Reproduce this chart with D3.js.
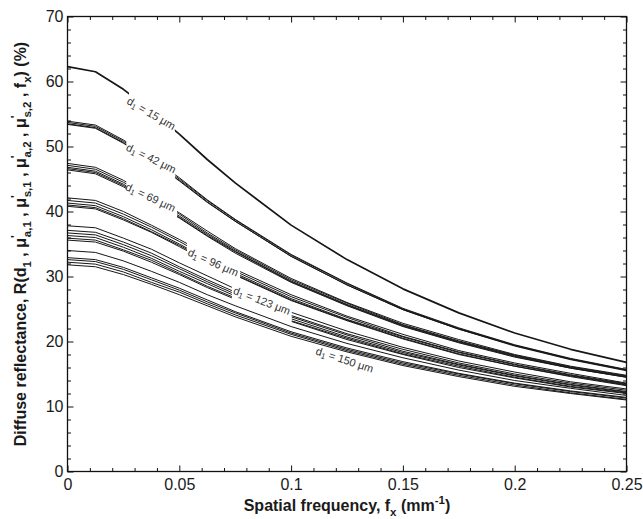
<!DOCTYPE html>
<html>
<head>
<meta charset="utf-8">
<script src="https://cdn.jsdelivr.net/npm/d3@7/dist/d3.min.js"></script>
<style>
  html, body { margin: 0; padding: 0; background: #fff; }
  svg { display: block; }
  text { font-family: "Liberation Sans", Arial, Helvetica, sans-serif; }
</style>
</head>
<body>
<svg id="chart" width="643" height="519"></svg>
<script>
// ---------- data ----------
const xValues = [0, 0.0125, 0.025, 0.0375, 0.05, 0.0625, 0.075, 0.1, 0.125, 0.15, 0.175, 0.2, 0.225, 0.25];

const thicknessLabels = ["15", "42", "69", "96", "123", "150"];

const curvesD15 = [
  [62.3, 61.5, 58.8, 55.5, 51.9, 48.0, 44.4, 37.9, 32.6, 28.1, 24.4, 21.3, 18.8, 16.8]
];
const curvesD42 = [
  [53.9, 53.3, 51.0, 48.3, 45.2, 41.8, 38.8, 33.4, 29.0, 25.1, 22.1, 19.5, 17.4, 15.7],
  [53.7, 53.1, 50.8, 48.1, 45.0, 41.7, 38.7, 33.3, 28.9, 25.0, 22.0, 19.4, 17.3, 15.6],
  [53.5, 52.9, 50.6, 47.9, 44.8, 41.5, 38.5, 33.1, 28.7, 24.9, 21.9, 19.4, 17.3, 15.6],
  [53.4, 52.8, 50.5, 47.8, 44.7, 41.4, 38.5, 33.1, 28.7, 24.9, 21.9, 19.3, 17.2, 15.5]
];
const curvesD69 = [
  [47.4, 46.8, 44.8, 42.3, 39.8, 37.0, 34.3, 29.7, 26.0, 22.8, 20.3, 18.0, 16.2, 14.8],
  [47.1, 46.5, 44.5, 42.1, 39.6, 36.7, 34.1, 29.5, 25.9, 22.6, 20.1, 17.9, 16.1, 14.7],
  [46.8, 46.2, 44.2, 41.8, 39.3, 36.5, 33.9, 29.3, 25.7, 22.5, 20.0, 17.8, 16.0, 14.6],
  [46.6, 46.0, 44.0, 41.6, 39.1, 36.3, 33.8, 29.2, 25.6, 22.4, 19.9, 17.7, 15.9, 14.5],
  [46.4, 45.8, 43.8, 41.4, 39.0, 36.2, 33.6, 29.1, 25.5, 22.3, 19.8, 17.6, 15.9, 14.5]
];
const curvesD96 = [
  [42.1, 41.7, 40.0, 37.9, 35.7, 33.4, 31.1, 27.2, 23.9, 21.1, 18.6, 16.7, 15.1, 13.6],
  [41.7, 41.3, 39.6, 37.6, 35.4, 33.0, 30.8, 26.9, 23.7, 20.8, 18.4, 16.5, 14.9, 13.5],
  [41.3, 40.9, 39.2, 37.2, 35.0, 32.7, 30.5, 26.6, 23.4, 20.7, 18.3, 16.4, 14.8, 13.4],
  [41.0, 40.6, 38.9, 36.9, 34.8, 32.5, 30.3, 26.4, 23.3, 20.5, 18.1, 16.2, 14.7, 13.3],
  [40.8, 40.4, 38.7, 36.8, 34.6, 32.3, 30.2, 26.3, 23.2, 20.4, 18.0, 16.2, 14.6, 13.2]
];
const curvesD123 = [
  [37.8, 37.5, 35.9, 34.2, 32.1, 30.1, 28.1, 24.5, 21.6, 19.1, 17.0, 15.3, 13.8, 12.7],
  [37.1, 36.8, 35.3, 33.6, 31.5, 29.5, 27.6, 24.0, 21.2, 18.8, 16.7, 15.0, 13.6, 12.5],
  [36.7, 36.4, 34.9, 33.2, 31.2, 29.2, 27.3, 23.8, 21.0, 18.5, 16.5, 14.8, 13.4, 12.3],
  [36.3, 36.0, 34.5, 32.8, 30.8, 28.9, 27.0, 23.5, 20.7, 18.3, 16.4, 14.7, 13.3, 12.2],
  [35.9, 35.6, 34.1, 32.5, 30.5, 28.5, 26.7, 23.2, 20.5, 18.1, 16.2, 14.5, 13.1, 12.1],
  [35.6, 35.3, 33.9, 32.2, 30.3, 28.3, 26.5, 23.1, 20.3, 18.0, 16.0, 14.4, 13.0, 12.0]
];
const curvesD150 = [
  [34.0, 33.7, 32.4, 30.8, 29.1, 27.2, 25.5, 22.3, 19.7, 17.5, 15.6, 14.0, 12.8, 11.7],
  [32.9, 32.6, 31.4, 29.8, 28.2, 26.4, 24.6, 21.5, 19.0, 16.9, 15.1, 13.6, 12.4, 11.4],
  [32.6, 32.3, 31.1, 29.5, 27.9, 26.1, 24.4, 21.3, 18.8, 16.7, 15.0, 13.5, 12.3, 11.3],
  [32.2, 31.9, 30.7, 29.1, 27.6, 25.8, 24.1, 21.1, 18.6, 16.5, 14.8, 13.3, 12.1, 11.1],
  [31.8, 31.5, 30.3, 28.8, 27.2, 25.5, 23.8, 20.8, 18.4, 16.3, 14.6, 13.1, 12.0, 11.0]
];

const xMajorTicks = [0, 0.05, 0.1, 0.15, 0.2, 0.25];
const xTickLabels = ["0", "0.05", "0.1", "0.15", "0.2", "0.25"];
const xMinorTicks = [0.01, 0.02, 0.03, 0.04, 0.06, 0.07, 0.08, 0.09, 0.11, 0.12, 0.13, 0.14, 0.16, 0.17, 0.18, 0.19, 0.21, 0.22, 0.23, 0.24];
const yMajorTicks = [0, 10, 20, 30, 40, 50, 60, 70];
const yTickLabels = ["0", "10", "20", "30", "40", "50", "60", "70"];
const yMinorTicks = [2, 4, 6, 8, 12, 14, 16, 18, 22, 24, 26, 28, 32, 34, 36, 38, 42, 44, 46, 48, 52, 54, 56, 58, 62, 64, 66, 68];

// ---------- layout (annotation placement, in data units) ----------
const groups = [
  { curves: curvesD15,  label: thicknessLabels[0], gap: [0.0275, 0.0480], lx: 0.0375, ly: 55.1, ang: 30 },
  { curves: curvesD42,  label: thicknessLabels[1], gap: [0.0263, 0.0482], lx: 0.0375, ly: 48.2, ang: 26 },
  { curves: curvesD69,  label: thicknessLabels[2], gap: [0.0263, 0.0490], lx: 0.0372, ly: 42.2, ang: 25 },
  { curves: curvesD96,  label: thicknessLabels[3], gap: [0.0534, 0.0772], lx: 0.0652, ly: 32.2, ang: 24 },
  { curves: curvesD123, label: thicknessLabels[4], gap: [0.0735, 0.1003], lx: 0.0870, ly: 26.3, ang: 21 },
  { curves: curvesD150, label: thicknessLabels[5], gap: null,             lx: 0.1240, ly: 17.2, ang: 18 }
];

const W = 643, H = 519;
const L = 67.5, R = 626.5, T = 16.5, B = 471.5;

const svg = d3.select("#chart");
const x = d3.scaleLinear().domain([0, 0.25]).range([L, R]);
const y = d3.scaleLinear().domain([0, 70]).range([B, T]);

const defs = svg.append("defs");
defs.append("clipPath").attr("id", "plotclip")
  .append("rect").attr("x", L).attr("y", T).attr("width", R - L).attr("height", B - T);

const line = d3.line().x(d => x(d[0])).y(d => y(d[1]));

const plot = svg.append("g").attr("clip-path", "url(#plotclip)");

groups.forEach((g, gi) => {
  const cp = defs.append("clipPath").attr("id", "gclip" + gi);
  if (g.gap) {
    cp.append("rect").attr("x", L - 2).attr("y", 0)
      .attr("width", x(g.gap[0]) - L + 2).attr("height", H);
    cp.append("rect").attr("x", x(g.gap[1])).attr("y", 0)
      .attr("width", R - x(g.gap[1]) + 2).attr("height", H);
  } else {
    cp.append("rect").attr("x", L - 2).attr("y", 0).attr("width", R - L + 4).attr("height", H);
  }
  const gg = plot.append("g").attr("clip-path", "url(#gclip" + gi + ")");
  gg.selectAll("path").data(g.curves).join("path")
    .attr("d", vals => line(xValues.map((xv, i) => [xv, vals[i]])))
    .attr("fill", "none")
    .attr("stroke", "#161616")
    .attr("stroke-width", gi === 0 ? 1.7 : 1.0)
    .attr("stroke-linejoin", "round");
});

// curve labels
groups.forEach(g => {
  const t = svg.append("text")
    .attr("transform", `translate(${x(g.lx)},${y(g.ly)}) rotate(${g.ang})`)
    .attr("text-anchor", "middle")
    .attr("dominant-baseline", "central")
    .attr("font-size", 11)
    .attr("fill", "#333");
  t.append("tspan").text("d");
  t.append("tspan").attr("font-size", 8).attr("dy", 3).text("1");
  t.append("tspan").attr("dy", -3).text(" = " + g.label + " \u03bcm");
});

// ---------- axes ----------
function styleAxis(sel) {
  sel.select(".domain").remove();
  sel.selectAll(".tick line").attr("stroke", "#111").attr("stroke-width", 1);
  sel.selectAll(".tick text").attr("fill", "#1a1a1a")
    .attr("font-family", "'Liberation Sans', Arial, Helvetica, sans-serif")
    .attr("font-size", 16);
}

svg.append("g").attr("transform", `translate(0,${B})`)
  .call(d3.axisBottom(x).tickValues(xMajorTicks).tickFormat((d, i) => xTickLabels[i])
    .tickSizeInner(-6).tickSizeOuter(0).tickPadding(7))
  .call(styleAxis);
svg.append("g").attr("transform", `translate(0,${B})`)
  .call(d3.axisBottom(x).tickValues(xMinorTicks).tickFormat("").tickSizeInner(-3.5).tickSizeOuter(0))
  .call(styleAxis);
svg.append("g").attr("transform", `translate(0,${T})`)
  .call(d3.axisTop(x).tickValues(xMajorTicks).tickFormat("").tickSizeInner(-6).tickSizeOuter(0))
  .call(styleAxis);
svg.append("g").attr("transform", `translate(0,${T})`)
  .call(d3.axisTop(x).tickValues(xMinorTicks).tickFormat("").tickSizeInner(-3.5).tickSizeOuter(0))
  .call(styleAxis);

svg.append("g").attr("transform", `translate(${L},0)`)
  .call(d3.axisLeft(y).tickValues(yMajorTicks).tickFormat((d, i) => yTickLabels[i])
    .tickSizeInner(-6).tickSizeOuter(0).tickPadding(4))
  .call(styleAxis);
svg.append("g").attr("transform", `translate(${L},0)`)
  .call(d3.axisLeft(y).tickValues(yMinorTicks).tickFormat("").tickSizeInner(-3.5).tickSizeOuter(0))
  .call(styleAxis);
svg.append("g").attr("transform", `translate(${R},0)`)
  .call(d3.axisRight(y).tickValues(yMajorTicks).tickFormat("").tickSizeInner(-6).tickSizeOuter(0))
  .call(styleAxis);
svg.append("g").attr("transform", `translate(${R},0)`)
  .call(d3.axisRight(y).tickValues(yMinorTicks).tickFormat("").tickSizeInner(-3.5).tickSizeOuter(0))
  .call(styleAxis);

svg.append("rect").attr("x", L).attr("y", T).attr("width", R - L).attr("height", B - T)
  .attr("fill", "none").attr("stroke", "#111").attr("stroke-width", 1.3);

// ---------- titles ----------
function rich(textSel, parts, size) {
  let off = 0;
  parts.forEach(p => {
    const ts = textSel.append("tspan").text(p.t);
    let target = 0, fs = size;
    if (p.s === "sub") { target = size * 0.3; fs = size * 0.72; }
    if (p.s === "sup") { target = -size * 0.42; fs = size * 0.72; }
    ts.attr("font-size", fs).attr("dy", target - off);
    if (p.dx) ts.attr("dx", p.dx);
    off = target;
  });
}

const xt = svg.append("text")
  .attr("x", (L + R) / 2).attr("y", 511)
  .attr("text-anchor", "middle").attr("font-weight", "bold").attr("fill", "#1a1a1a");
rich(xt, [
  { t: "Spatial frequency, f" }, { t: "x", s: "sub" }, { t: " (mm" }, { t: "-1", s: "sup" }, { t: ")" }
], 16);

const yt = svg.append("text")
  .attr("transform", `translate(26,${(T + B) / 2}) rotate(-90)`)
  .attr("text-anchor", "middle").attr("font-weight", "bold").attr("fill", "#1a1a1a");
rich(yt, [
  { t: "Diffuse reflectance, R(d" }, { t: "1", s: "sub" },
  { t: " , \u03bc" }, { t: "'", s: "sup" }, { t: "a,1", s: "sub", dx: -2 },
  { t: " , \u03bc" }, { t: "'", s: "sup" }, { t: "s,1", s: "sub", dx: -2 },
  { t: " , \u03bc" }, { t: "'", s: "sup" }, { t: "a,2", s: "sub", dx: -2 },
  { t: " , \u03bc" }, { t: "'", s: "sup" }, { t: "s,2", s: "sub", dx: -2 },
  { t: " , f" }, { t: "x", s: "sub" }, { t: ") (%)" }
], 16);
</script>
</body>
</html>
